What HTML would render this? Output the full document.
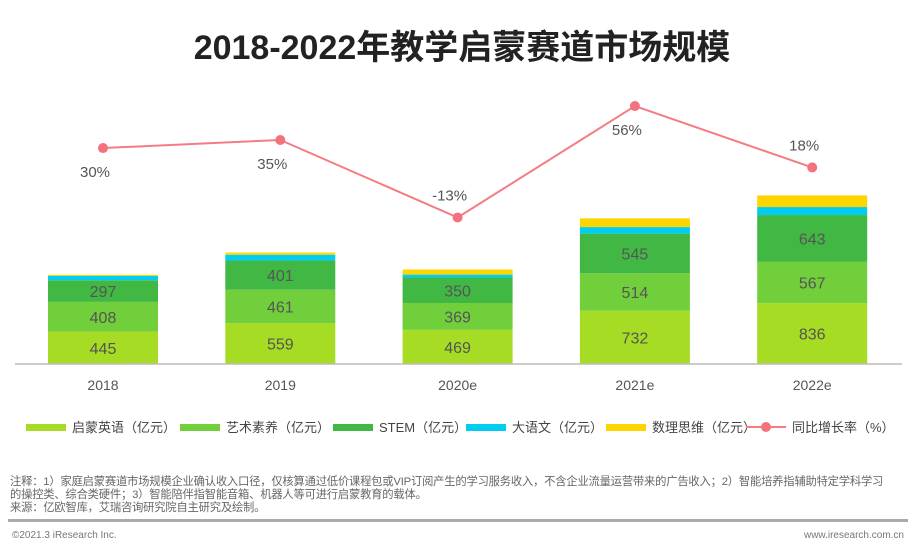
<!DOCTYPE html>
<html><head><meta charset="utf-8"><style>
body{margin:0;width:924px;height:548px;background:#fff;font-family:"Liberation Sans","Noto Sans CJK SC",sans-serif;overflow:hidden;position:relative}
.t{position:absolute;left:0;width:924px;top:20px;text-align:center;font-size:34px;font-weight:bold;color:#222}
.note{position:absolute;left:10px;top:476px;font-size:11.3px;color:#666;line-height:13px;width:920px;letter-spacing:-0.2px;white-space:nowrap}
.hr{position:absolute;left:8px;top:519px;width:900px;height:3px;background:#aaa}
.ft{position:absolute;top:530px;font-size:10px;color:#777}
</style></head><body>
<div class="t">2018-2022年教学启蒙赛道市场规模</div>
<svg id="c" width="924" height="470" style="position:absolute;left:0;top:0"></svg>
<div class="note">注释：1）家庭启蒙赛道市场规模企业确认收入口径，仅核算通过低价课程包或VIP订阅产生的学习服务收入，不含企业流量运营带来的广告收入；2）智能培养指辅助特定学科学习<br>的操控类、综合类硬件；3）智能陪伴指智能音箱、机器人等可进行启蒙教育的载体。<br>来源：亿欧智库，艾瑞咨询研究院自主研究及绘制。</div>
<div class="hr"></div>
<div class="ft" style="left:12px">©2021.3 iResearch Inc.</div>
<div class="ft" style="right:20px">www.iresearch.com.cn</div>
<script>
const categories=["2018","2019","2020e","2021e","2022e"];
const enlight=[445,559,469,732,836];
const art=[408,461,369,514,567];
const stem=[297,401,350,545,643];
const chinese=[60,80,40,90,110];
const math=[15,30,70,120,160];
const growth=[30,35,-13,56,18];
const growthLabels=["30%","35%","-13%","56%","18%"];
const labelPos=["below","below","above","below","above"];
const seriesNames=["启蒙英语（亿元）","艺术素养（亿元）","STEM（亿元）","大语文（亿元）","数理思维（亿元）"];
const colors=["#a6dc24","#72cf3c","#41b844","#00cdf0","#ffd500"];
const NS="http://www.w3.org/2000/svg",svg=document.getElementById('c');
function mk(t,a,txt){const e=document.createElementNS(NS,t);for(const k in a)e.setAttribute(k,a[k]);if(txt!=null)e.textContent=txt;svg.appendChild(e);return e;}
const base=364,k=0.0728;
const xc=i=>103+i*177.3;
const yb=v=>base-v*k;
const yl=v=>196.5-1.615*v;
const series=[enlight,art,stem,chinese,math];
categories.forEach((c,i)=>{
  let acc=0;
  series.forEach((s,j)=>{
    const y0=yb(acc),y1=yb(acc+s[i]);
    const r=mk('rect',{x:xc(i)-55,y:y1,width:110,height:y0-y1,fill:colors[j]});
    
    
    if(j<3){const t=mk('text',{x:xc(i),y:(y0+y1)/2+6,'text-anchor':'middle','font-size':16,fill:'#555'},s[i]);
      }
    acc+=s[i];
  });
  const t=mk('text',{x:xc(i),y:390,'text-anchor':'middle','font-size':14,fill:'#555'},c);
  
});
const ax=mk('line',{x1:15,x2:902,y1:base,y2:base,stroke:'#bbb','stroke-width':1.5});

const pl=mk('polyline',{points:growth.map((v,i)=>xc(i)+','+yl(v)).join(' '),fill:'none',stroke:'#f47c84','stroke-width':2});

growth.forEach((v,i)=>{
  const d=mk('circle',{cx:xc(i),cy:yl(v),r:5,fill:'#f4727c'});
  
  const ty=labelPos[i]=="below"?yl(v)+29:yl(v)-17;
  const t=mk('text',{x:xc(i)-8,y:ty,'text-anchor':'middle','font-size':15,fill:'#555'},growthLabels[i]);
  
});
const lx=[26,180,333,466,606,746];
seriesNames.forEach((n,j)=>{
  const r=mk('rect',{x:lx[j],y:424,width:40,height:7,fill:colors[j]});
  
  const t=mk('text',{x:lx[j]+46,y:432,'font-size':13,fill:'#444'},n);
  
});
const ll=mk('line',{x1:lx[5],x2:lx[5]+40,y1:427,y2:427,stroke:'#f47c84','stroke-width':2});

const lc=mk('circle',{cx:lx[5]+20,cy:427,r:5,fill:'#f4727c'});

const lt=mk('text',{x:lx[5]+46,y:432,'font-size':13,fill:'#444'},'同比增长率（%）');

</script>
</body></html>
